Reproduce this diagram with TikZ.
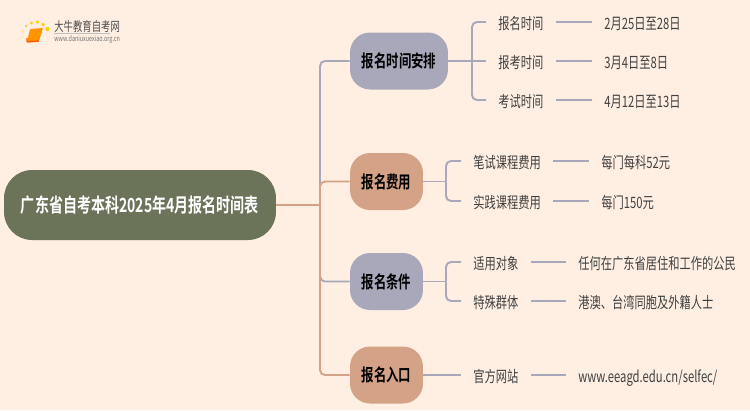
\documentclass[tikz,border=0pt]{standalone}
\usepackage{fontspec}
\setmainfont[FakeStretch=0.72,BoldFont={Noto Sans CJK SC Bold}]{Noto Sans CJK SC}
\usepackage{xcolor}
\usepackage{tikz}
\definecolor{bgcream}{HTML}{FFEFE2}
\definecolor{rootgreen}{HTML}{6B7359}
\definecolor{greyblue}{HTML}{A8A8BA}
\definecolor{clay}{HTML}{D3A287}
\definecolor{leafgrey}{HTML}{404040}
\tikzset{
  rootbox/.style={draw=none, fill=rootgreen, text=white, rounded corners=0.56cm, inner sep=0pt, minimum width=5.44cm, minimum height=1.4cm, font=\fontsize{11.1}{13}\selectfont\bfseries},
  topicbox/.style={draw=none, rounded corners=0.4cm, inner sep=0pt, minimum height=1.14cm, text=black, font=\fontsize{9.8}{12}\selectfont\bfseries},
  leaf/.style={anchor=west, inner xsep=0.24cm, inner ysep=1pt, text height=8.2pt, text depth=0pt, text=leafgrey, font=\fontsize{8.9}{11}\selectfont},
  bluelink/.style={draw=greyblue, line width=1.1pt, rounded corners=0.1cm},
  claylink/.style={draw=clay, line width=1.1pt, rounded corners=0.1cm},
}
\begin{document}
\begin{tikzpicture}[x=0.02cm, y=-0.02cm]
  \fill[bgcream] (0,0) rectangle (750,410);
  \useasboundingbox (0,0) rectangle (750,410);

  % logo
  \fill[orange!85!yellow, rounded corners=0.5pt] (30,29) -- (43,28) -- (39,41) -- (27,42) -- cycle;
  \draw[orange!70!red, line width=0.8pt, rounded corners=0.5pt] (27,38) -- (27,42) -- (39,41);
  \fill[yellow!70!orange] (47.5,29) circle (2.2);
  \fill[yellow!70!orange] (43,24.5) circle (1.8);
  \fill[yellow!70!orange] (37.5,22) circle (1.8);
  \fill[yellow!70!orange] (31.5,23) circle (1.7);
  \fill[yellow!60!orange!70] (26,26) circle (1.5);
  \fill[yellow!60!orange!50] (22.5,31) circle (1.3);
  \fill[yellow!60!orange!40] (23,37) circle (1.1);
  \node[anchor=west, inner sep=0pt, text=black!70, font=\fontsize{7.4}{9}\selectfont] (logoname) at (54,27) {大牛教育自考网};
  \node[anchor=west, inner sep=0pt, text=black!55, font=\fontsize{4.3}{5}\selectfont] (logourl) at (54,39) {www.daniuxuexiao.org.cn};
  \draw[black!25, line width=0.3pt] (logourl.north west) ++(0,-1.5) -- ++(56,0);

  \node[rootbox] (root) at (140,205) {广东省自考本科2025年4月报名时间表};

  \node[topicbox, fill=greyblue, minimum width=1.96cm] (schedule) at (399,61) {报名时间安排};
  \node[topicbox, fill=clay, minimum width=1.46cm] (fee) at (386.5,181.5) {报名费用};
  \node[topicbox, fill=greyblue, minimum width=1.46cm] (terms) at (386.5,281.5) {报名条件};
  \node[topicbox, fill=clay, minimum width=1.46cm] (entry) at (386.5,375) {报名入口};

  \coordinate (trunk) at (320,205);
  \draw[claylink] (root) -- (trunk);
  \draw[bluelink] (trunk) |- (schedule);
  \draw[claylink] (trunk) |- (fee);
  \draw[bluelink] (trunk) |- (terms);
  \draw[claylink] (trunk) |- (entry);

  % first group
  \node[leaf] (applytime) at (486,22) {报名时间};
  \node[leaf] (examreg) at (486,61) {报考时间};
  \node[leaf] (examtime) at (486,100) {考试时间};
  \node[leaf] (applydate) at (592,22) {2月25日至28日};
  \node[leaf] (examregdate) at (592,61) {3月4日至8日};
  \node[leaf] (examdate) at (592,100) {4月12日至13日};
  \coordinate (schedulefork) at (472,61);
  \draw[bluelink] (schedule) -- (schedulefork);
  \draw[bluelink] (schedulefork) |- (applytime);
  \draw[bluelink] (schedulefork) -- (examreg);
  \draw[bluelink] (schedulefork) |- (examtime);
  \draw[bluelink] (applytime) -- (applydate);
  \draw[bluelink] (examreg) -- (examregdate);
  \draw[bluelink] (examtime) -- (examdate);

  % second group
  \node[leaf] (written) at (461,161) {笔试课程费用};
  \node[leaf] (practice) at (461,201) {实践课程费用};
  \node[leaf] (writtenfee) at (589,161) {每门每科52元};
  \node[leaf] (practicefee) at (589,201) {每门150元};
  \coordinate (feefork) at (446,181.5);
  \draw[bluelink] (fee) -- (feefork);
  \draw[bluelink] (feefork) |- (written);
  \draw[bluelink] (feefork) |- (practice);
  \draw[bluelink] (written) -- (writtenfee);
  \draw[bluelink] (practice) -- (practicefee);

  % third group
  \node[leaf] (target) at (461,262) {适用对象};
  \node[leaf] (special) at (461,301) {特殊群体};
  \node[leaf] (targettext) at (566,262) {任何在广东省居住和工作的公民};
  \node[leaf] (specialtext) at (566,301) {港澳、台湾同胞及外籍人士};
  \coordinate (termsfork) at (446,281.5);
  \draw[bluelink] (terms) -- (termsfork);
  \draw[bluelink] (termsfork) |- (target);
  \draw[bluelink] (termsfork) |- (special);
  \draw[bluelink] (target) -- (targettext);
  \draw[bluelink] (special) -- (specialtext);

  % last group
  \node[leaf] (website) at (461,375) {官方网站};
  \node[leaf] (websiteurl) at (566,375) {www.eeagd.edu.cn/selfec/};
  \draw[bluelink] (entry) -- (website);
  \draw[bluelink] (website) -- (websiteurl);
\end{tikzpicture}
\end{document}
